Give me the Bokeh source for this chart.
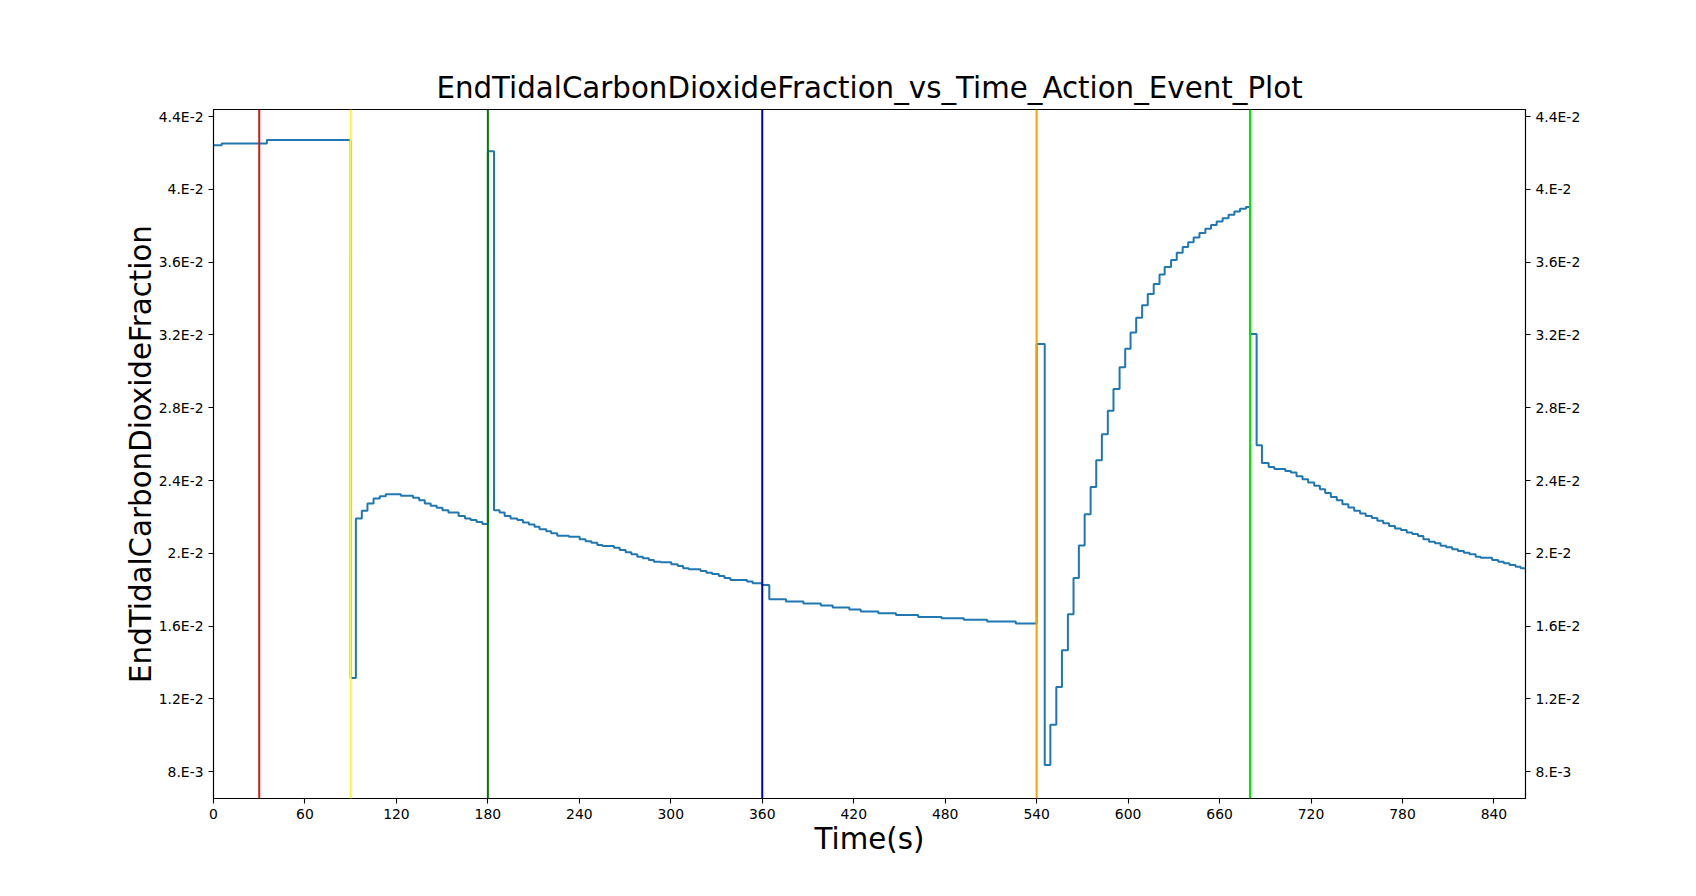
from bokeh.plotting import figure
from bokeh.models import Span, LinearAxis, FixedTicker, Range1d
from bokeh.embed import file_html
from bokeh.resources import INLINE

# ---- data ----
times = [0, 5.4, 35, 90, 93.4, 97.3, 101.0, 105.0, 109.1, 113.0, 122.9, 130.9, 134.9,
         138.6, 142.5, 146.4, 150.2, 154.1, 160.8, 165.0, 168.7, 172.6, 176.4,
         180.0, 184.0, 187.7, 191.0, 194.9, 199.3, 203.0, 206.9, 210.6, 213.9,
         218.3, 221.5, 225.5, 233.1, 240.2, 244.1, 247.9, 251.8, 255.1, 262.7,
         266.5, 270.4, 274.1, 278.0, 281.7, 285.6, 288.9, 293.3, 300.3, 304.6,
         308.1, 311.8, 319.5, 323.4, 327.1, 331.5, 335.2, 339.1, 350.0, 353.7,
         359.8, 364.6, 375.6, 387.0, 398.4, 406.2, 417.1, 424.6, 436.1, 447.7,
         462.3, 477.6, 492.2, 507.5, 526.3,
         540.0, 545.3, 549.0, 552.9, 556.6, 560.5, 564.2, 567.7, 571.5, 575.4,
         579.1, 582.8, 586.7, 590.4, 594.4, 598.1, 601.6, 605.3, 609.2, 612.9,
         616.8, 620.6, 624.0, 628.2, 631.9, 635.8, 639.4, 643.0, 646.8, 650.7,
         654.4, 658.1, 662.0, 665.9, 669.7, 673.4, 677.3,
         680.0, 684.3, 687.8, 692.2, 695.9, 703.1, 706.8, 710.5, 714.4, 718.1,
         722.1, 725.8, 729.3, 733.0, 736.9, 740.6, 744.5, 748.3, 752.2, 755.9,
         759.9, 763.5, 767.3, 771.2, 775.1, 778.9, 782.8, 786.4, 790.2, 793.7,
         797.4, 801.3, 805.0, 808.7, 812.6, 816.4, 820.3, 824.0, 828.0, 831.2,
         838.8, 842.8, 846.5, 850.2, 854.2, 857.5, 860.7]

values = [0.04243, 0.04252, 0.04272, 0.01315, 0.02192, 0.02234, 0.02274, 0.02301, 0.02314,
          0.02325, 0.02316, 0.02305, 0.02292, 0.02274, 0.02261, 0.02250, 0.02237, 0.02225,
          0.02205, 0.02192, 0.02183, 0.02172, 0.02162,
          0.04210, 0.02237, 0.02225, 0.02205, 0.02192, 0.02183, 0.02170, 0.02159, 0.02146,
          0.02133, 0.02122, 0.02110, 0.02097, 0.02091, 0.02078, 0.02067, 0.02058, 0.02046,
          0.02040, 0.02031, 0.02018, 0.02006, 0.01995, 0.01982, 0.01973, 0.01963, 0.01954,
          0.01951, 0.01940, 0.01931, 0.01918, 0.01913, 0.01903, 0.01894, 0.01887, 0.01876,
          0.01865, 0.01854, 0.01845, 0.01836, 0.01826,
          0.01748, 0.01735, 0.01724, 0.01713, 0.01702, 0.01691, 0.01680, 0.01671, 0.01662,
          0.01651, 0.01644, 0.01635, 0.01625, 0.01614,
          0.03150, 0.00837, 0.01058, 0.01265, 0.01467, 0.01666, 0.01865, 0.02043, 0.02215,
          0.02364, 0.02511, 0.02655, 0.02783, 0.02903, 0.03023, 0.03125, 0.03213, 0.03295,
          0.03364, 0.03425, 0.03480, 0.03532, 0.03574, 0.03612, 0.03652, 0.03683, 0.03710,
          0.03735, 0.03761, 0.03784, 0.03804, 0.03823, 0.03842, 0.03861, 0.03878, 0.03893,
          0.03903,
          0.03206, 0.02594, 0.02497, 0.02475, 0.02464, 0.02453, 0.02444, 0.02424, 0.02407,
          0.02389, 0.02371, 0.02352, 0.02332, 0.02310, 0.02292, 0.02270, 0.02252, 0.02234,
          0.02219, 0.02206, 0.02195, 0.02179, 0.02165, 0.02150, 0.02137, 0.02128, 0.02115,
          0.02106, 0.02095, 0.02077, 0.02064, 0.02055, 0.02042, 0.02033, 0.02022, 0.02013,
          0.02003, 0.01995, 0.01982, 0.01976, 0.01963, 0.01954, 0.01945, 0.01936, 0.01927,
          0.01918, 0.01918]

event_times = [30, 90, 180, 360, 540, 680]
event_colors = ["#cc1a1a", "#f7f73a", "#007a00", "#0000a8", "#f5a00f", "#00e600"]

x_ticks = [0, 60, 120, 180, 240, 300, 360, 420, 480, 540, 600, 660, 720, 780, 840]
y_ticks = [0.008, 0.012, 0.016, 0.020, 0.024, 0.028, 0.032, 0.036, 0.040, 0.044]
y_tick_labels = ["8.E-3", "1.2E-2", "1.6E-2", "2.E-2", "2.4E-2", "2.8E-2",
                 "3.2E-2", "3.6E-2", "4.E-2", "4.4E-2"]

title_text = "EndTidalCarbonDioxideFraction_vs_Time_Action_Event_Plot"
x_label = "Time(s)"
y_label = "EndTidalCarbonDioxideFraction"

FONT = "DejaVu Sans"

p = figure(width=1680, height=880, output_backend="svg", toolbar_location=None,
           x_range=Range1d(0, 860.7), y_range=Range1d(0.00653, 0.04439),
           min_border_left=213, min_border_right=155, min_border_top=109,
           min_border_bottom=82, title=title_text)

p.title.align = "center"
p.title.text_font = FONT
p.title.text_font_size = "29.3px"
p.title.text_font_style = "normal"
p.title.text_color = "black"

p.grid.visible = False
p.outline_line_color = "black"
p.outline_line_width = 1.1
p.background_fill_color = "white"
p.border_fill_color = "white"

label_overrides = {t: l for t, l in zip(y_ticks, y_tick_labels)}

def style_axis(ax):
    ax.major_label_text_font = FONT
    ax.major_label_text_font_size = "13.9px"
    ax.major_label_text_color = "black"
    ax.major_tick_out = 5
    ax.major_tick_in = 0
    ax.minor_tick_out = 0
    ax.minor_tick_in = 0
    ax.major_tick_line_width = 1.1
    ax.major_tick_line_color = "black"
    ax.axis_line_color = "black"
    ax.axis_line_width = 1.1
    ax.major_label_standoff = 5
    ax.axis_label_text_font = FONT
    ax.axis_label_text_font_size = "29.3px"
    ax.axis_label_text_font_style = "normal"
    ax.axis_label_text_color = "black"

xa = p.xaxis[0]
xa.ticker = FixedTicker(ticks=x_ticks)
xa.axis_label = x_label
xa.axis_label_standoff = 0
style_axis(xa)

ya = p.yaxis[0]
ya.ticker = FixedTicker(ticks=y_ticks)
ya.major_label_overrides = label_overrides
ya.axis_label = y_label
ya.axis_label_standoff = -2
style_axis(ya)

ra = LinearAxis(ticker=FixedTicker(ticks=y_ticks))
ra.major_label_overrides = label_overrides
style_axis(ra)
p.add_layout(ra, "right")

p.step(times, values, mode="after", line_color="#1f77b4", line_width=2)

for t, c in zip(event_times, event_colors):
    p.add_layout(Span(location=t, dimension="height", line_color=c, line_width=2))

open("out.html", "w").write(file_html(p, INLINE))
